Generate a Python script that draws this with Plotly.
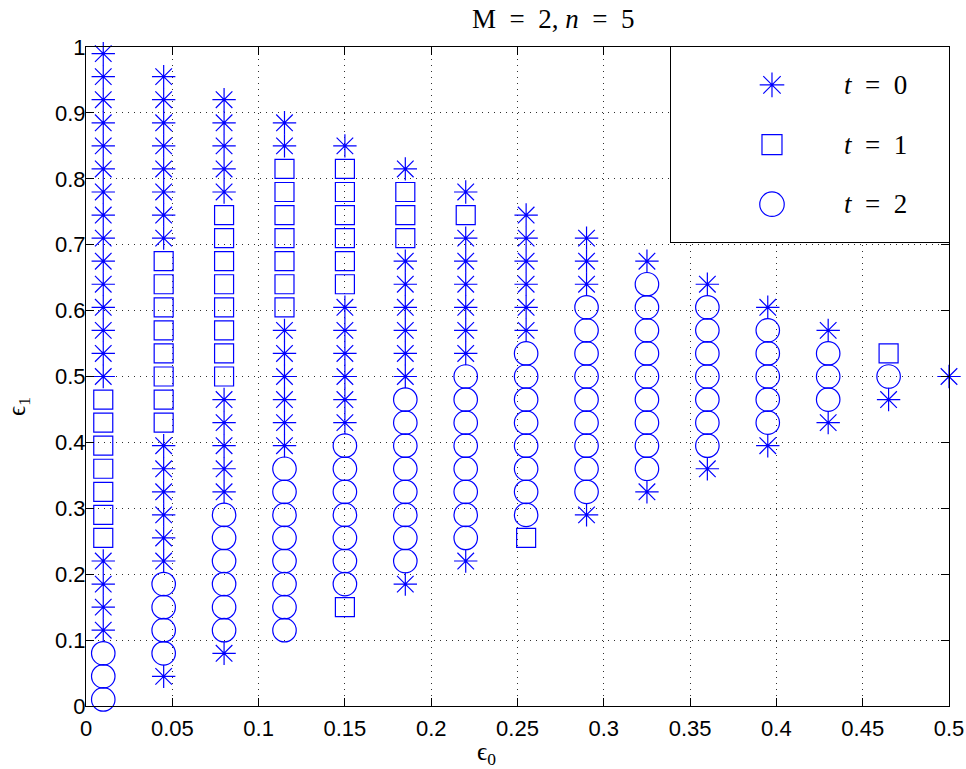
import plotly.graph_objects as go

# ---------------- data ----------------
eps0_values = [0.01, 0.045, 0.08, 0.115, 0.15, 0.185, 0.22, 0.255, 0.29,
               0.325, 0.36, 0.395, 0.43, 0.465, 0.5]

eps1_levels = [0.01, 0.045, 0.08, 0.115, 0.15, 0.185, 0.22, 0.255, 0.29,
               0.325, 0.36, 0.395, 0.43, 0.465, 0.5, 0.535, 0.57, 0.605,
               0.64, 0.675, 0.71, 0.745, 0.78, 0.815, 0.85, 0.885, 0.92,
               0.955, 0.99]

# t value of each point of a column, from bottom (eps1 = eps0) upwards
t_by_column = [
    "22200001111111000000000000000",
    "022220000001111111100000000",
    "0222222000001111111100000",
    "22222222000000111111100",
    "122222220000001111110",
    "0222222220000001110",
    "02222222200000010",
    "122222222000000",
    "0222222222000",
    "02222222220",
    "022222220",
    "0222220",
    "02220",
    "021",
    "0",
]

x_tick_vals = [0, 0.05, 0.1, 0.15, 0.2, 0.25, 0.3, 0.35, 0.4, 0.45, 0.5]
x_tick_text = ["0", "0.05", "0.1", "0.15", "0.2", "0.25", "0.3", "0.35",
               "0.4", "0.45", "0.5"]
y_tick_vals = [0, 0.1, 0.2, 0.3, 0.4, 0.5, 0.6, 0.7, 0.8, 0.9, 1]
y_tick_text = ["0", "0.1", "0.2", "0.3", "0.4", "0.5", "0.6", "0.7", "0.8",
               "0.9", "1"]

t_labels = ["0", "1", "2"]

# ---------------- styling ----------------
BLUE = "#0000ff"
SYMBOLS = ["asterisk-open", "square-open", "circle-open"]
SIZES = [19.5, 19, 23.5]
LINE_W = 1.2
SERIF = "Liberation Serif, DejaVu Serif, serif"
SANS = "Liberation Sans, Arial, Helvetica, sans-serif"
NB = "\u00a0"

# ---------------- build series ----------------
series = {0: ([], []), 1: ([], []), 2: ([], [])}
for x, codes in zip(eps0_values, t_by_column):
    start = eps1_levels.index(x)
    for k, c in enumerate(codes):
        series[int(c)][0].append(x)
        series[int(c)][1].append(eps1_levels[start + k])

fig = go.Figure()
for t in (0, 1, 2):
    xs, ys = series[t]
    fig.add_trace(go.Scatter(
        x=xs, y=ys, mode="markers", name="t = %d" % t,
        showlegend=False, cliponaxis=False, hoverinfo="skip",
        marker=dict(symbol=SYMBOLS[t], size=SIZES[t], color=BLUE,
                    line=dict(color=BLUE, width=LINE_W)),
    ))

# ---------------- hand-made legend (MATLAB style box) ----------------
# the legend box is a small subplot (white background + framed axes)
LEG_DOMAIN_X = [0.678, 1.0]
LEG_DOMAIN_Y = [0.704, 1.0]
LEG_MARK_X = 0.363
LEG_TEXT_X = 0.734
LEG_ROWS_Y = [0.806, 0.5, 0.194]

for t in (0, 1, 2):
    fig.add_trace(go.Scatter(
        x=[LEG_MARK_X], y=[LEG_ROWS_Y[t]], xaxis="x2", yaxis="y2",
        mode="markers", showlegend=False, cliponaxis=False, hoverinfo="skip",
        marker=dict(symbol=SYMBOLS[t], size=SIZES[t] + 1, color=BLUE,
                    line=dict(color=BLUE, width=LINE_W)),
    ))
    fig.add_annotation(
        x=LEG_TEXT_X, y=LEG_ROWS_Y[t], xref="x2", yref="y2",
        text="<i>t</i>" + NB * 2 + "=" + NB * 2 + t_labels[t],
        showarrow=False, xanchor="center", yanchor="middle",
        font=dict(family=SERIF, size=27, color="black"),
    )

# ---------------- title & axis labels ----------------
fig.add_annotation(
    x=0.541, y=1.043, xref="paper", yref="paper",
    text="M" + NB * 2 + "=" + NB * 2 + "2," + NB + "<i>n</i>" + NB * 2 + "="
         + NB * 2 + "5",
    showarrow=False, xanchor="center", yanchor="middle",
    font=dict(family=SERIF, size=27, color="black"),
)
fig.add_annotation(
    x=0.464, y=-0.072, xref="paper", yref="paper",
    text="\u03f5<sub>0</sub>", showarrow=False,
    xanchor="center", yanchor="middle",
    font=dict(family=SERIF, size=25, color="black"),
)
fig.add_annotation(
    x=-0.079, y=0.455, xref="paper", yref="paper",
    text="\u03f5<sub>1</sub>", showarrow=False, textangle=-90,
    xanchor="center", yanchor="middle",
    font=dict(family=SERIF, size=25, color="black"),
)

axis_common = dict(
    showline=True, linecolor="black", linewidth=1.2, mirror="ticks",
    ticks="inside", ticklen=8, tickwidth=1, tickcolor="black",
    showgrid=True, gridcolor="#303030", gridwidth=1, griddash="1px,5px",
    zeroline=False, automargin=False,
    tickfont=dict(family=SANS, size=22, color="black"),
)
legend_axis = dict(
    range=[0, 1], showline=True, linecolor="black", linewidth=1.2,
    mirror=True, ticks="", showticklabels=False, showgrid=False,
    zeroline=False, fixedrange=True, automargin=False,
)

fig.update_layout(
    width=966, height=769,
    margin=dict(l=86, r=17, t=47, b=63, autoexpand=False),
    paper_bgcolor="white", plot_bgcolor="white",
    xaxis=dict(range=[0, 0.5], tickmode="array", tickvals=x_tick_vals,
               ticktext=x_tick_text, ticklabelstandoff=2, **axis_common),
    yaxis=dict(range=[0, 1], tickmode="array", tickvals=y_tick_vals,
               ticktext=y_tick_text, ticklabelstandoff=-5, **axis_common),
    xaxis2=dict(domain=LEG_DOMAIN_X, anchor="y2", **legend_axis),
    yaxis2=dict(domain=LEG_DOMAIN_Y, anchor="x2", **legend_axis),
    showlegend=False,
)

fig.write_html("out.html", config={"displayModeBar": False},
               post_script="document.body.style.margin='0';")
